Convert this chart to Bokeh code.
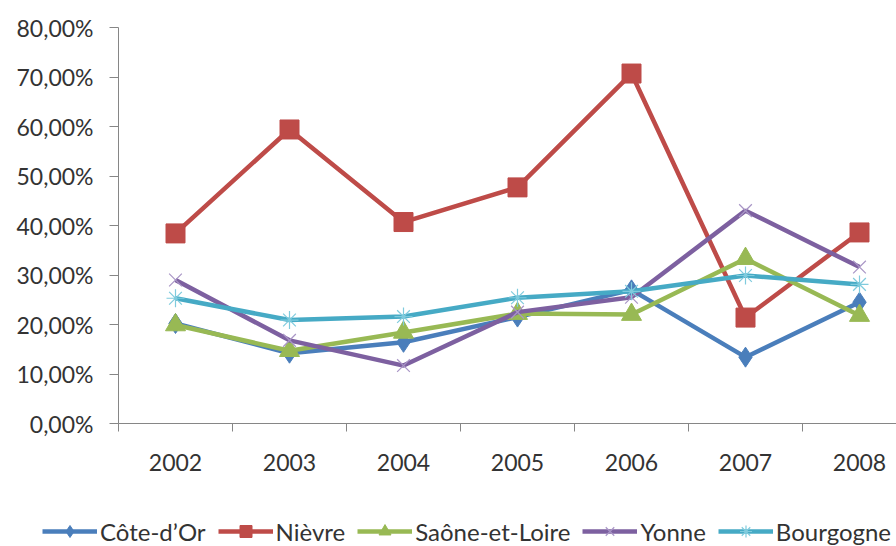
from bokeh.plotting import figure
from bokeh.models import FixedTicker, Legend, LegendItem, Range1d
from bokeh.embed import file_html
from bokeh.resources import INLINE

years = [2002, 2003, 2004, 2005, 2006, 2007, 2008]
cote_dor = [20.2, 14.2, 16.4, 21.5, 27.0, 13.4, 24.5]
nievre = [38.4, 59.4, 40.7, 47.7, 70.7, 21.4, 38.6]
saone_et_loire = [19.9, 14.7, 18.4, 22.2, 22.0, 33.3, 21.8]
yonne = [29.0, 16.8, 11.7, 22.5, 25.5, 43.0, 31.6]
bourgogne = [25.3, 20.9, 21.6, 25.4, 26.7, 29.9, 28.1]
y_ticks = [0, 10, 20, 30, 40, 50, 60, 70, 80]
y_tick_labels = ["0,00%", "10,00%", "20,00%", "30,00%", "40,00%",
                 "50,00%", "60,00%", "70,00%", "80,00%"]

FONT = "Lato"
TXT = "#333333"
AX = "#868686"

# layout (pixels)
W, H = 896, 546
AX_LEFT, AX_TOP, AX_BOTTOM = 118, 27, 423
CAT_W = 114
Y_MAX = 80
PX_PER_UNIT = (AX_BOTTOM - AX_TOP) / Y_MAX
x0 = years[0] - 0.5
x_start = x0 - AX_LEFT / CAT_W
x_end = x0 + (W - AX_LEFT) / CAT_W
y_start = -(H - AX_BOTTOM) / PX_PER_UNIT
y_end = Y_MAX + AX_TOP / PX_PER_UNIT

p = figure(width=W, height=H, output_backend="svg", toolbar_location=None,
           x_range=Range1d(x_start, x_end), y_range=Range1d(y_start, y_end),
           min_border_left=0, min_border_top=0, min_border_bottom=0,
           min_border_right=0)
p.outline_line_color = None
p.xgrid.visible = False
p.ygrid.visible = False

# axes
p.yaxis.fixed_location = x0
p.yaxis.bounds = (0, Y_MAX)
p.yaxis.ticker = FixedTicker(ticks=y_ticks)
p.yaxis.major_label_overrides = {t: l for t, l in zip(y_ticks, y_tick_labels)}
p.yaxis.major_tick_out = 9
p.yaxis.major_tick_in = 0
p.yaxis.minor_tick_line_color = None
p.yaxis.major_label_standoff = 16
for ax in (p.xaxis[0], p.yaxis[0]):
    ax.axis_line_color = AX
    ax.major_tick_line_color = AX
    ax.major_label_text_font = FONT
    ax.major_label_text_font_size = "23px"
    ax.major_label_text_color = TXT

p.xaxis.fixed_location = 0
p.xaxis.bounds = (x0, x_end)
p.xaxis.ticker = FixedTicker(ticks=years, minor_ticks=[y - 0.5 for y in years] + [years[-1] + 0.5])
p.xaxis.major_tick_line_color = None
p.xaxis.minor_tick_line_color = AX
p.xaxis.minor_tick_out = 8
p.xaxis.minor_tick_in = 0
p.xaxis.major_label_standoff = 22
p.xaxis.major_label_overrides = {y: str(y) for y in years}

series = [
    ("Côte-d’Or", cote_dor, "#4A7EBB", "diamond", 20, "#4A7EBB", 1),
    ("Nièvre", nievre, "#BE4B48", "square", 19, "#BE4B48", 1),
    ("Saône-et-Loire", saone_et_loire, "#98B954", "triangle", 20, "#98B954", 1),
    ("Yonne", yonne, "#7D60A0", "x", 18, "#A996C6", 1.2),
    ("Bourgogne", bourgogne, "#46AAC5", "asterisk", 18, "#7FCBDD", 1.2),
]

items = []
for name, vals, col, marker, size, mcol, mlw in series:
    r1 = p.line(years, vals, line_color=col, line_width=4.5)
    r2 = p.scatter(years, vals, marker=marker, size=size,
                   fill_color=col, line_color=mcol, line_width=mlw)
    items.append(LegendItem(label=name, renderers=[r1, r2]))

legend = Legend(items=items, orientation="horizontal", location=(42, 0))
legend.label_text_font = FONT
legend.label_text_font_size = "24px"
legend.label_text_color = TXT
legend.glyph_width = 55
legend.glyph_height = 30
legend.label_standoff = 3
legend.spacing = 12
legend.padding = 0
legend.margin = 0
legend.border_line_alpha = 0
legend.background_fill_alpha = 0
p.add_layout(legend, "center")

open("out.html", "w").write(file_html(p, INLINE))
